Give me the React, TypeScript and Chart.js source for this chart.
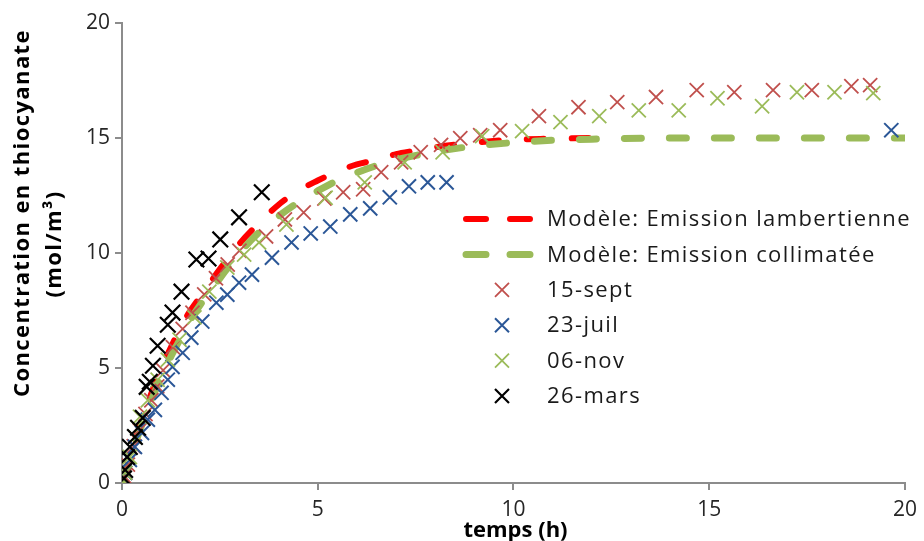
import React, { useEffect, useRef } from "react";
import { Chart, registerables } from "chart.js";

Chart.register(...registerables);

const FONT = "'Open Sans', Lato, sans-serif";

// Axis ticks
const xTicks = [0, 5, 10, 15, 20];
const yTicks = [0, 5, 10, 15, 20];

// Model: Emission lambertienne
const lambT = [0, 0.25, 0.5, 0.75, 1, 1.25, 1.5, 1.75, 2, 2.5, 3, 3.5, 4, 4.5, 5, 5.5, 6, 6.5, 7, 7.5, 8, 9, 10, 11, 12];
const lambC = [0, 1.4, 2.7, 3.9, 5.0, 5.9, 6.8, 7.5, 8.1, 9.3, 10.4, 11.3, 12.1, 12.7, 13.15, 13.55, 13.85, 14.05, 14.3, 14.45, 14.6, 14.8, 14.93, 14.97, 15.0];

// Model: Emission collimatée
const collT = [0, 0.25, 0.5, 0.75, 1, 1.25, 1.5, 1.75, 2, 2.5, 3, 3.5, 4, 4.5, 5, 5.5, 6, 6.5, 7, 8, 9, 10, 11, 12, 14, 16, 18, 20];
const collC = [0, 1.3, 2.5, 3.6, 4.6, 5.5, 6.3, 7.1, 7.75, 8.9, 10.0, 10.9, 11.6, 12.2, 12.7, 13.15, 13.5, 13.8, 14.05, 14.4, 14.65, 14.8, 14.9, 14.95, 15.0, 15.0, 15.0, 15.0];

// 15-sept
const septT = [0.05, 0.15, 0.3, 0.45, 0.6, 0.75, 0.9, 1.05, 1.3, 1.55, 1.8, 2.1, 2.4, 2.7, 3.0, 3.68, 4.16, 4.64, 5.17, 5.65, 6.16, 6.62, 7.13, 7.63, 8.15, 8.64, 9.15, 9.66, 10.65, 11.66, 12.65, 13.64, 14.68, 15.64, 16.63, 17.62, 18.63, 19.11];
const septC = [0.3, 0.8, 1.6, 2.3, 3.0, 3.6, 4.2, 4.9, 5.9, 6.7, 7.4, 8.2, 8.9, 9.5, 10.1, 10.72, 11.46, 11.76, 12.37, 12.64, 12.77, 13.51, 13.94, 14.38, 14.7, 14.99, 15.12, 15.34, 15.95, 16.34, 16.56, 16.78, 17.08, 16.99, 17.08, 17.08, 17.25, 17.3];

// 23-juil
const juilT = [0.08, 0.2, 0.33, 0.51, 0.66, 0.84, 1.01, 1.17, 1.29, 1.55, 1.77, 2.05, 2.41, 2.69, 2.99, 3.32, 3.83, 4.33, 4.82, 5.32, 5.83, 6.34, 6.84, 7.33, 7.81, 8.29, 19.65];
const juilC = [0.44, 1.0, 1.57, 2.18, 2.75, 3.18, 3.92, 4.49, 5.05, 5.66, 6.32, 7.02, 7.84, 8.19, 8.71, 9.06, 9.8, 10.46, 10.85, 11.15, 11.68, 11.94, 12.42, 12.9, 13.07, 13.07, 15.34];

// 06-nov
const novT = [0.08, 0.2, 0.33, 0.46, 0.66, 0.91, 1.17, 1.47, 1.85, 2.23, 2.69, 3.12, 3.5, 4.2, 5.2, 6.2, 7.22, 8.19, 9.2, 10.22, 11.2, 12.19, 13.2, 14.22, 15.21, 16.35, 17.24, 18.2, 19.19];
const novC = [0.44, 1.13, 2.0, 2.88, 3.6, 4.49, 5.36, 6.23, 7.2, 8.32, 9.37, 9.93, 10.46, 11.24, 12.4, 13.07, 13.94, 14.38, 15.08, 15.3, 15.69, 15.95, 16.2, 16.2, 16.73, 16.38, 16.99, 16.99, 16.95];

// 26-mars
const marsT = [0.05, 0.08, 0.13, 0.2, 0.33, 0.41, 0.53, 0.63, 0.71, 0.79, 0.91, 1.17, 1.29, 1.52, 1.9, 2.21, 2.51, 2.99, 3.57];
const marsC = [0.2, 0.57, 1.13, 1.57, 2.0, 2.4, 2.83, 4.18, 4.4, 5.1, 5.97, 6.88, 7.41, 8.32, 9.72, 9.76, 10.59, 11.55, 12.64];

const labels = [
  "Modèle: Emission lambertienne",
  "Modèle: Emission collimatée",
  "15-sept",
  "23-juil",
  "06-nov",
  "26-mars",
];
const colors = ["#FF0000", "#9BBB59", "#C0504D", "#2B5797", "#9BBB59", "#000000"];

const pts = (t: number[], c: number[]) => t.map((x, i) => ({ x, y: c[i] }));

const legendPlugin = {
  id: "customLegend",
  afterDraw(chart: any) {
    const ctx = chart.ctx as any;
    const ds = chart.data.datasets;
    const lineX1 = 466, lineX2 = 530, crossX = 502, textX = 547, y0 = 219, step = 35.4;
    ctx.save();
    ds.forEach((d: any, i: number) => {
      const y = y0 + i * step;
      if (d.showLine) {
        ctx.strokeStyle = d.borderColor;
        ctx.lineWidth = d.borderWidth;
        ctx.lineCap = "round";
        ctx.beginPath();
        ctx.moveTo(lineX1, y);
        ctx.lineTo(lineX1 + 20, y);
        ctx.moveTo(lineX2 - 20, y);
        ctx.lineTo(lineX2, y);
        ctx.stroke();
      } else {
        const h = 7;
        ctx.strokeStyle = d.borderColor;
        ctx.lineWidth = d.borderWidth;
        ctx.lineCap = "butt";
        ctx.beginPath();
        ctx.moveTo(crossX - h, y - h);
        ctx.lineTo(crossX + h, y + h);
        ctx.moveTo(crossX - h, y + h);
        ctx.lineTo(crossX + h, y - h);
        ctx.stroke();
      }
      ctx.fillStyle = "#1a1a1a";
      ctx.font = `22px ${FONT}`;
      ctx.letterSpacing = "1.4px";
      ctx.textBaseline = "middle";
      ctx.textAlign = "left";
      ctx.fillText(d.label, textX, y + 1);
    });
    ctx.restore();
  },
};

const titlesPlugin = {
  id: "axisTitles",
  afterDraw(chart: any) {
    const ctx = chart.ctx as any;
    const area = chart.chartArea;
    ctx.save();
    ctx.fillStyle = "#000000";
    ctx.font = `bold 22px ${FONT}`;
    ctx.textAlign = "center";
    ctx.textBaseline = "middle";
    // x title
    ctx.letterSpacing = "0px";
    ctx.fillText("temps (h)", (area.left + area.right) / 2 + 2, 531);
    // y title
    ctx.letterSpacing = "1.4px";
    ctx.save();
    ctx.translate(23, 213);
    ctx.rotate(-Math.PI / 2);
    ctx.fillText("Concentration en thiocyanate", 0, 0);
    ctx.restore();
    ctx.save();
    ctx.translate(55, 244);
    ctx.rotate(-Math.PI / 2);
    ctx.fillText("(mol/m³)", 0, 0);
    ctx.restore();
    ctx.restore();
  },
};

export default function App() {
  const ref = useRef<HTMLCanvasElement | null>(null);
  useEffect(() => {
    if (!ref.current) return;
    const modelDash = [17, 28];
    const cross = (i: number, order: number, width: number, radius: number, t: number[], c: number[]) => ({
      label: labels[i],
      data: pts(t, c),
      showLine: false,
      pointStyle: "crossRot",
      pointRadius: radius,
      pointHoverRadius: radius,
      borderColor: colors[i],
      backgroundColor: colors[i],
      borderWidth: width,
      order,
    });
    const chart = new Chart(ref.current, {
      type: "scatter",
      data: {
        datasets: [
          {
            label: labels[0],
            data: pts(lambT, lambC),
            showLine: true,
            pointRadius: 0,
            borderColor: colors[0],
            backgroundColor: colors[0],
            borderWidth: 6,
            borderDash: modelDash,
            borderCapStyle: "round",
            cubicInterpolationMode: "monotone",
            order: 10,
          } as any,
          {
            label: labels[1],
            data: pts(collT, collC),
            showLine: true,
            pointRadius: 0,
            borderColor: colors[1],
            backgroundColor: colors[1],
            borderWidth: 7,
            borderDash: modelDash,
            borderCapStyle: "round",
            cubicInterpolationMode: "monotone",
            order: 9,
          } as any,
          cross(2, 5, 1.8, 10, septT, septC) as any,
          cross(3, 4, 2, 10, juilT, juilC) as any,
          cross(4, 3, 1.8, 10, novT, novC) as any,
          cross(5, 2, 2.2, 11, marsT, marsC) as any,
        ],
      },
      options: {
        responsive: false,
        animation: false,
        layout: { padding: { left: 0, top: 23, right: 13, bottom: 0 } },
        plugins: { legend: { display: false }, tooltip: { enabled: false }, title: { display: false } },
        scales: {
          x: {
            type: "linear",
            min: 0,
            max: 20,
            afterBuildTicks: (s: any) => {
              s.ticks = xTicks.map((v) => ({ value: v }));
            },
            afterFit: (s: any) => {
              s.height = 58;
            },
            grid: { display: true, drawOnChartArea: false, drawTicks: true, tickLength: 7, color: "#8C8C8C", lineWidth: 2 },
            border: { display: true, color: "#8C8C8C", width: 2 },
            ticks: { font: { family: FONT, size: 21 }, color: "#262626", padding: 7, maxRotation: 0 },
          },
          y: {
            type: "linear",
            min: 0,
            max: 20,
            afterBuildTicks: (s: any) => {
              s.ticks = yTicks.map((v) => ({ value: v }));
            },
            afterFit: (s: any) => {
              s.width = 122;
            },
            grid: { display: true, drawOnChartArea: false, drawTicks: true, tickLength: 7, color: "#8C8C8C", lineWidth: 2 },
            border: { display: true, color: "#8C8C8C", width: 2 },
            ticks: { font: { family: FONT, size: 21 }, color: "#262626", padding: 5 },
          },
        },
      },
      plugins: [legendPlugin, titlesPlugin],
    } as any);
    return () => chart.destroy();
  }, []);
  return (
    <div style={{ position: "fixed", left: 0, top: 0, width: 924, height: 541, background: "#fff" }}>
      <canvas ref={ref} width={924} height={541} />
    </div>
  );
}
